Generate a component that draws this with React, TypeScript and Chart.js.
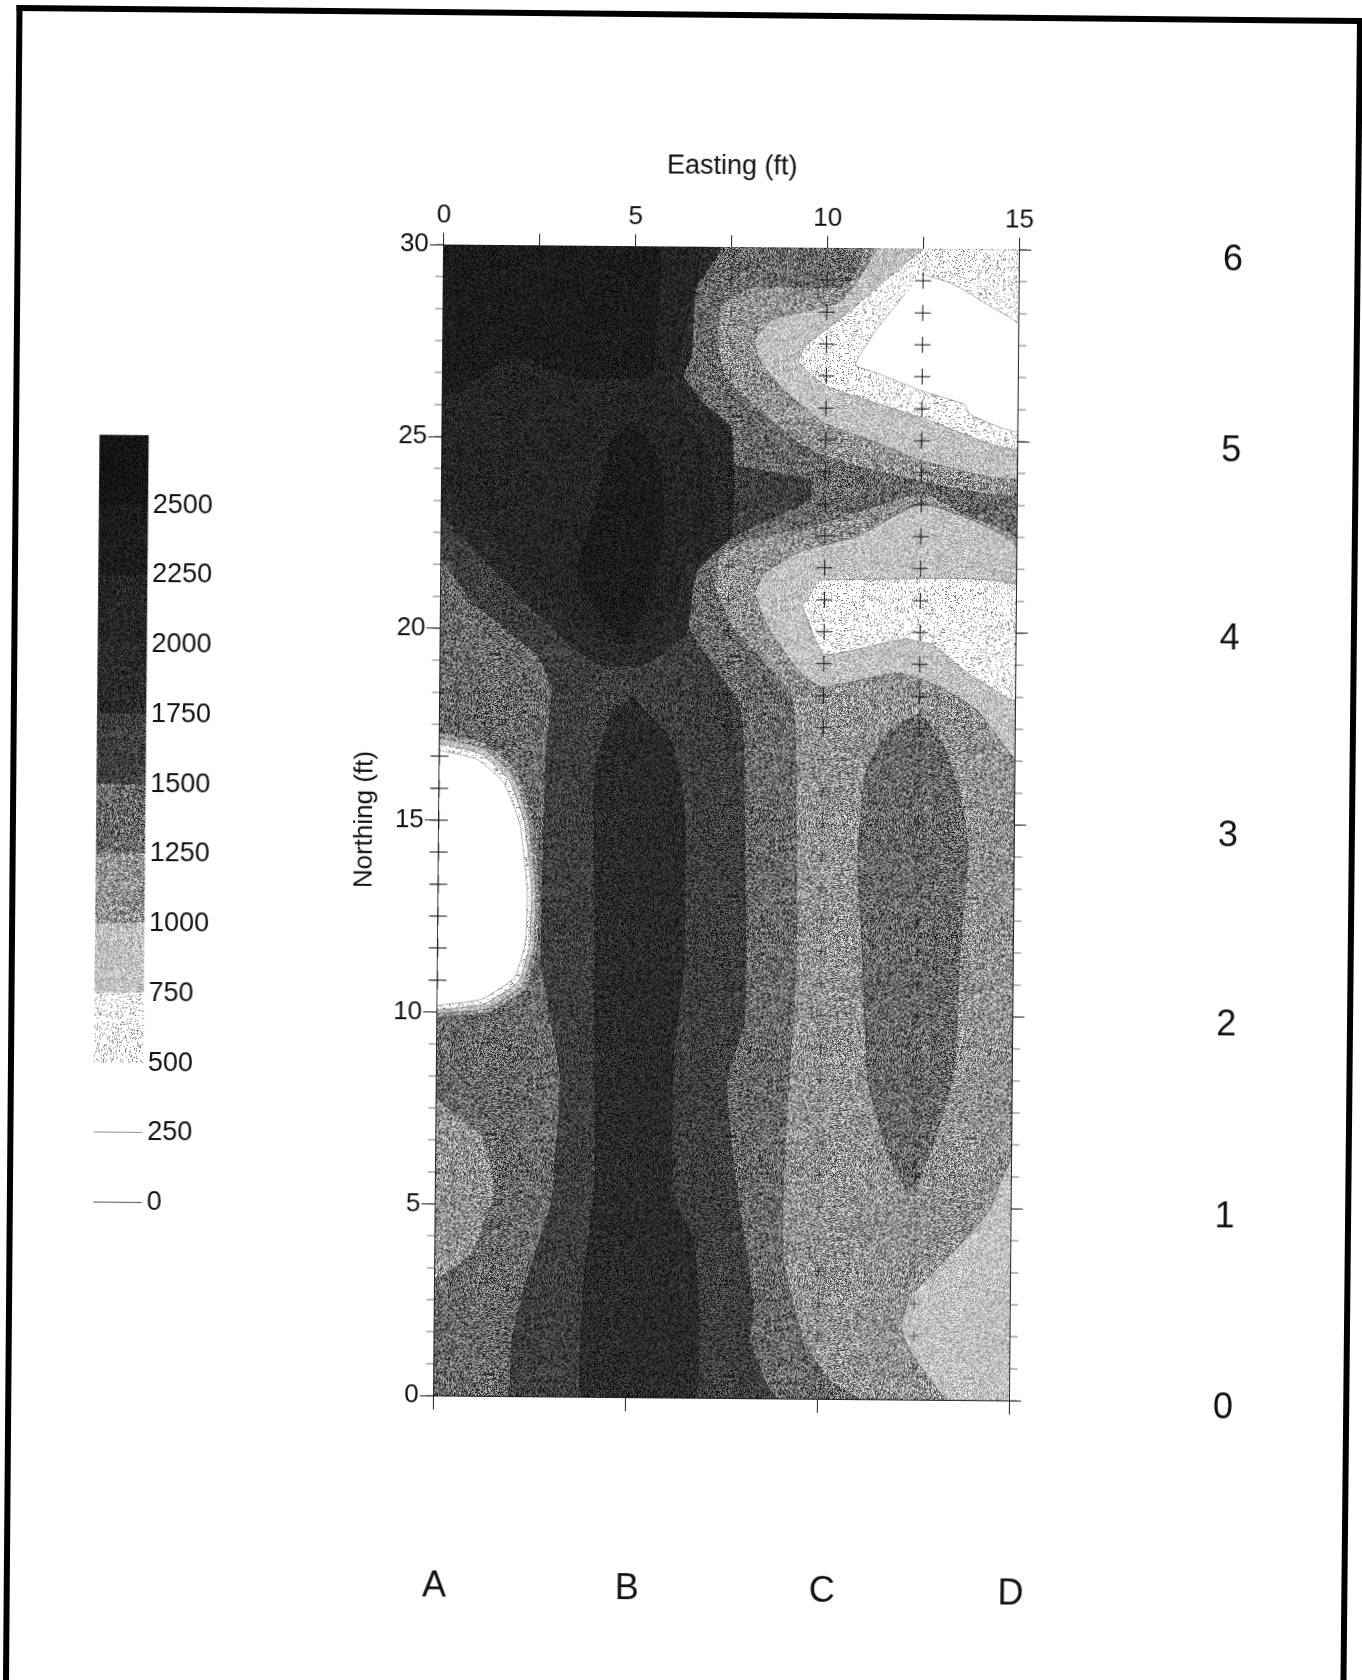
import React, { useEffect, useRef } from "react";
import { Chart, registerables } from "chart.js";

Chart.register(...registerables);

type Pt = [number, number];

// Contour bands: lower bound of each value band (ft grid, 250-unit classes)
const BAND_LOWER = [500, 750, 1000, 1250, 1500, 1750, 2000, 2250, 2500];
const BAND_GRAY = [236, 192, 146, 104, 62, 42, 36, 28, 20];
const LEGEND_TICKS = [0, 250, 500, 750, 1000, 1250, 1500, 1750, 2000, 2250, 2500];

const EASTING_MINOR = [0, 2.5, 5, 7.5, 10, 12.5, 15];
const NORTHING_SAMPLES = [
  0, 0.83, 1.67, 2.5, 3.33, 4.17, 5, 5.83, 6.67, 7.5, 8.33, 9.17, 10, 10.83, 11.67, 12.5, 13.33, 14.17, 15,
  15.83, 16.67, 17.5, 18.33, 19.17, 20, 20.83, 21.67, 22.5, 23.33, 24.17, 25, 25.83, 26.67, 27.5, 28.33, 29.17, 30,
];
const HOLE_SAMPLES = [10.83, 11.67, 12.5, 13.33, 14.17, 15, 15.83, 16.67];
const UPPER_SAMPLES = [17.5, 18.33, 19.17, 20, 20.83, 21.67, 22.5, 23.33, 24.17, 25, 25.83, 26.67, 27.5, 28.33, 29.17];
const LOWER_SAMPLES = [0.83, 1.67, 2.5, 3.33, 4.17, 5, 5.83, 6.67, 7.5, 8.33, 9.17, 10, 10.83, 11.67, 12.5, 13.33, 14.17, 15, 15.83, 16.67];
const ROW_LABELS = ["0", "1", "2", "3", "4", "5", "6"];
const ROW_NORTHINGS = [0, 5, 10, 15, 20, 25, 30];
const COLUMN_LABELS = ["A", "B", "C", "D"];
const COLUMN_EASTINGS = [0, 5, 10, 15];
// hand-lettered labels sit slightly off the grid
const ROW_NUDGE = [1, 2, 2, 4, -1, 3.5, 3.5];
const COLUMN_NUDGE: Pt[] = [[0, 1], [1, 2], [4, 3], [1, 4]];

const FULL: Pt[] = [[0, 0], [15, 0], [15, 30], [0, 30]];
const RIGHT_1250: Pt[] = [[7.2, 30], [6.58, 28.94], [6.48, 27.16], [6.26, 26.62], [6.6, 26.21], [7.6, 24.37], [9.58, 23.97], [9.59, 23.44], [7.5, 22.39], [6.53, 21.34], [6.46, 20.09], [7.82, 18], [7.99, 14.1], [8.02, 9.9], [7.56, 8.23], [7.93, 4.88], [8.31, 2.5], [8.23, 1.53], [8.95, 0], [15, 0], [15, 30]];
const LEFT_1250: Pt[] = [[0, 21.84], [0.8, 20.73], [2.49, 19.35], [2.92, 18.52], [2.79, 16.84], [2.7, 11.36], [2.93, 10.05], [3.23, 8.24], [3.03, 5.11], [2.82, 4.41], [2.43, 3.12], [2.03, 1.55], [1.9, 0], [0, 0]];
const UPPER_1750: Pt[] = [[0, 30], [7.2, 30], [6.58, 28.94], [6.48, 27.16], [6.26, 26.62], [6.77, 25.96], [7.53, 25.27], [7.56, 22.47], [6.67, 21.63], [6.4, 19.95], [5.29, 19.1], [4.17, 19.09], [3.33, 19.64], [2.48, 20.47], [1.07, 21.85], [0, 22.96]];
const COLUMN_1750: Pt[] = [[5.02, 18.26], [6.01, 17.15], [6.39, 15.48], [6.42, 11.29], [6.16, 8.77], [6.19, 5.31], [6.76, 4.03], [6.79, 0], [3.91, 0], [3.89, 2.88], [4.15, 5.68], [4.12, 8.47], [4.09, 12.66], [4.05, 16.29], [4.46, 17.83]];
const UPPER_2000: Pt[] = [[0, 30], [6.6, 30], [6.33, 28.05], [5.93, 26.23], [6.92, 24.7], [7.08, 22.47], [6.25, 21.48], [5.98, 20.5], [5.0, 19.65], [3.75, 19.92], [2.48, 21.31], [1.07, 22.7], [0, 23.8]];
const UPPER_2250: Pt[] = [[0, 30], [5.54, 30], [5.55, 28.04], [5.37, 26.64], [3.27, 26.62], [1.87, 27.17], [0.76, 26.46], [0, 26.17]];
const CORE_2250: Pt[] = [[4.96, 25.46], [5.67, 24.41], [5.77, 22.46], [5.28, 20.5], [4.87, 19.8], [4.16, 20.35], [3.59, 21.6], [4.14, 23.56], [4.4, 24.96]];
const TOP_1000: Pt[] = [[10.96, 30], [10.63, 29.18], [10.33, 28.98], [8.0, 28.96], [7.23, 28.47], [7.15, 27.66], [7.35, 26.63], [8.31, 25.69], [9.58, 24.73], [10.84, 24.32], [12.55, 23.92], [15, 23.66], [15, 30]];
const LOWER_1000: Pt[] = [[7.25, 21.94], [8.06, 22.4], [9.73, 22.77], [12.55, 23.64], [13.64, 23.09], [15, 22.46], [15, 0], [11.15, 0], [10.2, 0.57], [9.6, 1.62], [9.08, 3.6], [9.07, 5.86], [9.21, 8.66], [9.35, 11.43], [9.33, 14.11], [9.16, 18.3], [7.6, 20.1], [7.15, 21.13]];
const RIDGE_1250: Pt[] = [[12.52, 17.91], [13.14, 17.08], [13.57, 15.82], [13.8, 14.43], [13.6, 11.35], [13.49, 8.56], [12.94, 6.6], [12.4, 5.34], [11.83, 6.31], [11.25, 8.26], [11.09, 11.33], [10.93, 14.12], [11.13, 16.36], [11.74, 17.48]];
const TOP_750: Pt[] = [[11.3, 30], [10.85, 29.26], [10.33, 28.59], [8.57, 28.12], [8.13, 27.59], [8.24, 27.09], [8.78, 26.4], [9.91, 25.46], [11.11, 25.02], [12.54, 24.47], [15, 24.08], [15, 30]];
const MID_750: Pt[] = [[8.4, 21.5], [9.32, 22.07], [10.86, 22.5], [12.55, 23.36], [15, 22.26], [15, 16.79], [14.02, 17.98], [12.93, 18.64], [11.95, 18.94], [9.97, 18.56], [9.4, 18.91], [8.53, 20.11], [8.18, 20.97]];
const LOW_750: Pt[] = [[15, 6.3], [14.82, 5.92], [14.39, 4.88], [13.3, 3.64], [12.39, 2.68], [12.17, 1.9], [12.4, 1.29], [13.4, 0], [15, 0]];
const TOP_500: Pt[] = [[12.5, 30], [11.86, 29.47], [10.33, 28.14], [9.44, 27.43], [9.28, 27.01], [10.01, 26.4], [12.54, 25.59], [15, 24.83], [15, 30]];
const MID_500: Pt[] = [[9.89, 21.35], [15, 21.26], [15, 18.27], [13.62, 19.06], [12.87, 19.67], [12.08, 19.83], [10.01, 19.42], [9.44, 20.65]];
const TOP_BELOW_500: Pt[] = [[12.5, 29.34], [13.29, 29.09], [14.27, 28.51], [15, 28.04], [15, 25.28], [13.76, 25.69], [13.6, 25.96], [12.53, 26.29], [11.32, 26.75], [10.76, 26.97], [11.31, 27.9], [12.06, 28.85]];
const LOBE_1000: Pt[] = [[0, 7.74], [1.2, 6.77], [1.55, 5.38], [0.95, 3.7], [0, 3]];
const HOLE_1000: Pt[] = [[0, 17.3], [1.15, 17.05], [2.0, 16.35], [2.44, 15.1], [2.65, 13.2], [2.6, 11.65], [2.3, 10.6], [1.38, 10.0], [0, 9.85]];
const HOLE_750: Pt[] = [[0, 17.15], [1.1, 16.9], [1.9, 16.22], [2.33, 15.05], [2.54, 13.2], [2.5, 11.7], [2.2, 10.7], [1.3, 10.1], [0, 9.95]];
const HOLE_500: Pt[] = [[0, 17.0], [1.05, 16.75], [1.8, 16.1], [2.22, 15], [2.43, 13.2], [2.39, 11.75], [2.1, 10.8], [1.22, 10.22], [0, 10.05]];
const HOLE_BELOW_500: Pt[] = [[0, 16.82], [0.98, 16.6], [1.68, 16], [2.11, 14.93], [2.32, 13.2], [2.28, 11.81], [2.0, 10.91], [1.17, 10.35], [0, 10.17]];

// paint order, back to front: [polygon, band lower bound]
const LAYERS: [Pt[], number][] = [
  [FULL, 1500], [RIGHT_1250, 1250], [LEFT_1250, 1250], [UPPER_1750, 1750], [COLUMN_1750, 1750],
  [UPPER_2000, 2000], [UPPER_2250, 2250], [CORE_2250, 2250], [TOP_1000, 1000], [LOWER_1000, 1000],
  [RIDGE_1250, 1250], [TOP_750, 750], [MID_750, 750], [LOW_750, 750], [TOP_500, 500], [MID_500, 500],
  [TOP_BELOW_500, 0], [LOBE_1000, 1000], [HOLE_1000, 1000], [HOLE_750, 750], [HOLE_500, 500], [HOLE_BELOW_500, 0],
];

const FONT = "'Liberation Sans', Arial, sans-serif";

function noise(x: number, y: number): number {
  let n = (Math.imul(x, 374761393) + Math.imul(y, 668265263)) | 0;
  n = Math.imul(n ^ (n >>> 13), 1274126177);
  return ((n ^ (n >>> 16)) >>> 0) / 4294967296;
}

// fine halftone grain for a grey level
function grain(ctx: CanvasRenderingContext2D, gray: number): CanvasPattern {
  const size = 240;
  const c = document.createElement("canvas");
  c.width = size;
  c.height = size;
  const g = c.getContext("2d")!;
  const img = g.createImageData(size, size);
  const amp = Math.min(gray, 255 - gray) * 0.9;
  for (let y = 0; y < size; y++) {
    for (let x = 0; x < size; x++) {
      const n = noise(x, y);
      const v = gray > 220 ? (n < 0.14 ? 120 : 255) : gray + (n - 0.5) * 2 * amp;
      const i = (y * size + x) * 4;
      img.data[i] = v;
      img.data[i + 1] = v;
      img.data[i + 2] = v;
      img.data[i + 3] = 255;
    }
  }
  g.putImageData(img, 0, 0);
  return ctx.createPattern(c, "repeat")!;
}

function bandFill(ctx: CanvasRenderingContext2D, lower: number): CanvasPattern | string {
  const i = BAND_LOWER.indexOf(lower);
  return i < 0 ? "#ffffff" : grain(ctx, BAND_GRAY[i]);
}

const labelsPlugin = {
  id: "gridLabels",
  afterDraw(chart: any) {
    const { ctx, scales } = chart;
    ctx.save();
    ctx.fillStyle = "#111";
    ctx.font = `36px ${FONT}`;
    ctx.textAlign = "center";
    ctx.textBaseline = "middle";
    COLUMN_LABELS.forEach((t, i) => {
      ctx.fillText(t, scales.x.getPixelForValue(COLUMN_EASTINGS[i]) + 2 + COLUMN_NUDGE[i][0], 1588 + COLUMN_NUDGE[i][1]);
    });
    ROW_LABELS.forEach((t, i) => {
      ctx.fillText(t, 1228, scales.y.getPixelForValue(ROW_NORTHINGS[i]) + 5 + ROW_NUDGE[i]);
    });
    ctx.restore();
  },
};

export default function App() {
  const mainRef = useRef<HTMLCanvasElement>(null);
  const legendRef = useRef<HTMLCanvasElement>(null);

  useEffect(() => {
    const ctx = mainRef.current!.getContext("2d")!;
    const cache = new Map<number, CanvasPattern | string>();
    const fillOf = (v: number) => {
      if (!cache.has(v)) cache.set(v, bandFill(ctx, v));
      return cache.get(v)!;
    };
    const polygons = LAYERS.map(([poly, band], i) => ({
      data: poly.map(([x, y]) => ({ x, y })),
      showLine: true,
      fill: "shape",
      tension: 0.15,
      backgroundColor: fillOf(band),
      borderColor: "rgba(0,0,0,0.5)",
      borderWidth: i === 0 ? 0 : 0.6,
      pointRadius: 0,
      order: LAYERS.length - i + 10,
    }));
    const marksAt = (x: number, ys: number[], style: string, radius: number, color = "#111", rotation = 0) => ({
      data: ys.map((y) => ({ x, y })),
      showLine: false,
      pointStyle: style,
      pointRadius: radius,
      pointRotation: rotation,
      pointBorderColor: color,
      pointBorderWidth: 1,
      clip: false,
      order: 1,
    });
    const soft = "rgba(0,0,0,0.55)";
    const axisFont = { family: FONT, size: 26 };
    const main = new Chart(ctx, {
      type: "scatter",
      data: {
        datasets: [
          ...polygons,
          marksAt(0, HOLE_SAMPLES, "cross", 9),
          marksAt(0, NORTHING_SAMPLES, "dash", 8, soft, 180),
          marksAt(7.5, UPPER_SAMPLES, "cross", 6, soft),
          marksAt(10, UPPER_SAMPLES, "cross", 8),
          marksAt(10, LOWER_SAMPLES, "crossRot", 0),
          marksAt(10, LOWER_SAMPLES, "cross", 5, soft),
          marksAt(12.5, UPPER_SAMPLES, "cross", 8),
          marksAt(12.5, LOWER_SAMPLES, "cross", 5, soft),
          marksAt(15, NORTHING_SAMPLES, "dash", 8, soft),
        ] as any,
      },
      plugins: [labelsPlugin],
      options: {
        animation: false,
        responsive: false,
        layout: { padding: { left: 348.8, top: 150.2, right: 317.8, bottom: 251.8 } },
        plugins: { legend: { display: false }, tooltip: { enabled: false } },
        scales: {
          x: {
            type: "linear",
            position: "top",
            min: 0,
            max: 15,
            title: { display: true, text: "Easting (ft)", color: "#111", font: { family: FONT, size: 27 }, padding: 0 },
            afterFit: (s: any) => { s.height = 97; },
            afterBuildTicks: (s: any) => { s.ticks = EASTING_MINOR.map((value) => ({ value })); },
            ticks: { color: "#111", font: axisFont, padding: 2, maxRotation: 0, autoSkip: false, callback: (v: any) => (Number(v) % 5 === 0 ? String(v) : "") },
            grid: { drawOnChartArea: false, tickLength: 12, tickColor: "#222", tickWidth: 1 },
            border: { color: "#222", width: 1 },
          },
          xBottom: {
            type: "linear",
            position: "bottom",
            min: 0,
            max: 15,
            afterFit: (s: any) => { s.height = 30; },
            afterBuildTicks: (s: any) => { s.ticks = COLUMN_EASTINGS.map((value) => ({ value })); },
            ticks: { display: false },
            grid: { drawOnChartArea: false, tickLength: 14, tickColor: "#222", tickWidth: 1 },
            border: { color: "#222", width: 1 },
          },
          y: {
            type: "linear",
            position: "left",
            min: 0,
            max: 30,
            title: { display: true, text: "Northing (ft)", color: "#111", font: { family: FONT, size: 26 }, padding: 0 },
            afterFit: (s: any) => { s.width = 90; },
            afterBuildTicks: (s: any) => { s.ticks = ROW_NORTHINGS.map((value) => ({ value })); },
            ticks: { color: "#111", font: axisFont, padding: 1, autoSkip: false },
            grid: { drawOnChartArea: false, tickLength: 14, tickColor: "#222", tickWidth: 1 },
            border: { color: "#222", width: 1 },
          },
          yRight: {
            type: "linear",
            position: "right",
            min: 0,
            max: 30,
            afterFit: (s: any) => { s.width = 30; },
            afterBuildTicks: (s: any) => { s.ticks = ROW_NORTHINGS.map((value) => ({ value })); },
            ticks: { display: false },
            grid: { drawOnChartArea: false, tickLength: 12, tickColor: "#222", tickWidth: 1 },
            border: { color: "#222", width: 1, dash: [3, 3] },
          },
        },
      } as any,
    });

    const lctx = legendRef.current!.getContext("2d")!;
    const legendBands = [0, 250, ...BAND_LOWER];
    const legend = new Chart(lctx, {
      type: "bar",
      data: {
        labels: ["band"],
        datasets: legendBands.map((low) => ({
          data: [[low, low + 250]],
          backgroundColor: low < 500 ? "#ffffff" : bandFill(lctx, low),
          borderColor: "#222",
          borderWidth: low < 500 ? { bottom: 1 } : 0,
          borderSkipped: false,
          barPercentage: 1,
          categoryPercentage: 1,
          clip: false,
        })) as any,
      },
      options: {
        animation: false,
        responsive: false,
        layout: { padding: { left: 96.5, top: 40.5, right: 25, bottom: 52.2 } },
        plugins: { legend: { display: false }, tooltip: { enabled: false } },
        scales: {
          x: { display: false, stacked: true },
          y: {
            position: "right",
            min: 0,
            max: 2750,
            afterFit: (s: any) => { s.width = 90; },
            afterBuildTicks: (s: any) => { s.ticks = LEGEND_TICKS.map((value) => ({ value })); },
            ticks: { color: "#111", font: { family: FONT, size: 27 }, padding: 5, autoSkip: false, callback: (v: any) => String(v) },
            grid: { display: false, drawTicks: false },
            border: { display: false },
          },
        },
      } as any,
    });

    return () => {
      main.destroy();
      legend.destroy();
    };
  }, []);

  return (
    <div style={{ position: "absolute", left: 0, top: 0, width: 1362, height: 1680, overflow: "hidden", background: "#fff" }}>
      <svg width={1362} height={1680} style={{ position: "absolute", left: 0, top: 0 }}>
        <g stroke="#000" strokeWidth={6} strokeLinecap="square">
          <line x1={19.5} y1={8} x2={6} y2={1680} />
          <line x1={19.5} y1={8} x2={1360} y2={21} />
          <line x1={1360} y1={21} x2={1343.5} y2={1680} />
        </g>
      </svg>
      <div style={{ position: "absolute", left: 0, top: 0, width: 1362, height: 1680, transform: "rotate(0.5deg)", transformOrigin: "726.5px 822.7px" }}>
        <canvas ref={mainRef} width={1362} height={1680} style={{ position: "absolute", left: 0, top: 0, display: "block" }} />
        <canvas ref={legendRef} width={260} height={860} style={{ position: "absolute", left: 0, top: 400, display: "block" }} />
      </div>
    </div>
  );
}
